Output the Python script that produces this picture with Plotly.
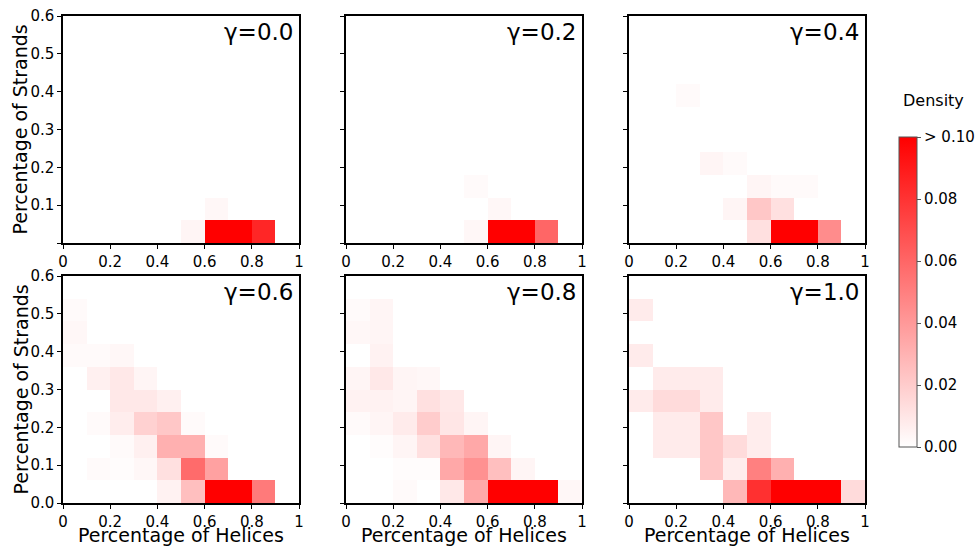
import plotly.graph_objects as go

# bin edges
x_edges = [round(0.1 * i, 2) for i in range(11)]
y_edges = [round(0.06 * i, 2) for i in range(11)]

gammas = ["γ=0.0", "γ=0.2", "γ=0.4", "γ=0.6", "γ=0.8", "γ=1.0"]

Z = [0.0] * 10

# rows: y bins from bottom (0-0.06) to top; columns: x bins 0-0.1 ... 0.9-1.0
g00 = [
    [0, 0, 0, 0, 0, 0.004, 0.42, 0.40, 0.085, 0],
    [0, 0, 0, 0, 0, 0, 0.003, 0, 0, 0],
    Z, Z, Z, Z, Z, Z, Z, Z,
]
g02 = [
    [0, 0, 0, 0, 0, 0.003, 0.40, 0.38, 0.06, 0],
    [0, 0, 0, 0, 0, 0, 0.003, 0, 0, 0],
    [0, 0, 0, 0, 0, 0.002, 0, 0, 0, 0],
    Z, Z, Z, Z, Z, Z, Z,
]
g04 = [
    [0, 0, 0, 0, 0, 0.012, 0.32, 0.30, 0.045, 0],
    [0, 0, 0, 0, 0.004, 0.022, 0.012, 0, 0, 0],
    [0, 0, 0, 0, 0, 0.004, 0.002, 0.002, 0, 0],
    [0, 0, 0, 0.004, 0.002, 0, 0, 0, 0, 0],
    Z, Z,
    [0, 0, 0.002, 0, 0, 0, 0, 0, 0, 0],
    Z, Z, Z,
]
g06 = [
    [0, 0, 0, 0, 0.005, 0.025, 0.16, 0.15, 0.052, 0],
    [0, 0.002, 0.001, 0.003, 0.012, 0.058, 0.037, 0, 0, 0],
    [0, 0, 0.002, 0.006, 0.031, 0.031, 0.002, 0, 0, 0],
    [0, 0.002, 0.007, 0.018, 0.022, 0.002, 0, 0, 0, 0],
    [0, 0, 0.009, 0.009, 0.006, 0, 0, 0, 0, 0],
    [0, 0.006, 0.009, 0.004, 0, 0, 0, 0, 0, 0],
    [0.002, 0.002, 0.003, 0, 0, 0, 0, 0, 0, 0],
    [0.003, 0, 0, 0, 0, 0, 0, 0, 0, 0],
    [0.002, 0, 0, 0, 0, 0, 0, 0, 0, 0],
    Z,
]
g08 = [
    [0, 0, 0.002, 0, 0.009, 0.034, 0.20, 0.19, 0.11, 0.003],
    [0, 0, 0.001, 0.001, 0.034, 0.043, 0.025, 0.004, 0, 0],
    [0, 0.001, 0.004, 0.012, 0.028, 0.034, 0.004, 0, 0, 0],
    [0.002, 0.004, 0.008, 0.02, 0.01, 0.004, 0, 0, 0, 0],
    [0.005, 0.005, 0.004, 0.012, 0.009, 0, 0, 0, 0, 0],
    [0.004, 0.009, 0.004, 0.003, 0, 0, 0, 0, 0, 0],
    [0, 0.005, 0, 0, 0, 0, 0, 0, 0, 0],
    [0.003, 0.004, 0, 0, 0, 0, 0, 0, 0, 0],
    [0.002, 0.004, 0, 0, 0, 0, 0, 0, 0, 0],
    Z,
]
g10 = [
    [0, 0, 0, 0, 0.028, 0.081, 0.22, 0.20, 0.15, 0.014],
    [0, 0, 0, 0.022, 0.007, 0.05, 0.031, 0, 0, 0],
    [0, 0.008, 0.008, 0.022, 0.014, 0.007, 0, 0, 0, 0],
    [0, 0.008, 0.008, 0.022, 0, 0.007, 0, 0, 0, 0],
    [0.008, 0.014, 0.014, 0.008, 0, 0, 0, 0, 0, 0],
    [0, 0.008, 0.008, 0.008, 0, 0, 0, 0, 0, 0],
    [0.008, 0, 0, 0, 0, 0, 0, 0, 0, 0],
    Z,
    [0.008, 0, 0, 0, 0, 0, 0, 0, 0, 0],
    Z,
]
grids = [g00, g02, g04, g06, g08, g10]

x_tickvals = [0, 0.2, 0.4, 0.6, 0.8, 1.0]
x_ticktext = ["0", "0.2", "0.4", "0.6", "0.8", "1"]
y_top_tickvals = [0, 0.1, 0.2, 0.3, 0.4, 0.5, 0.6]
y_top_ticktext = ["", "0.1", "0.2", "0.3", "0.4", "0.5", "0.6"]
y_bot_ticktext = ["0.0", "0.1", "0.2", "0.3", "0.4", "0.5", "0.6"]
cbar_tickvals = [0, 0.02, 0.04, 0.06, 0.08, 0.10]
cbar_ticktext = ["0.00", "0.02", "0.04", "0.06", "0.08", "> 0.10"]

W, H = 977, 547
col_px = [(63, 299), (346, 582), (629, 865)]
row_px = [(16, 243), (276, 503)]

FONT = "DejaVu Sans"
fig = go.Figure()
layout = dict(
    template="none",
    width=W, height=H, margin=dict(l=0, r=0, t=0, b=0, autoexpand=False),
    paper_bgcolor="white", plot_bgcolor="white",
    font=dict(family=FONT, color="black", size=15),
    showlegend=False,
    coloraxis=dict(
        colorscale=[[0, "#ffffff"], [1, "#ff0000"]], cmin=0, cmax=0.1,
        colorbar=dict(
            x=899 / W, xanchor="left", y=1 - 447 / H, yanchor="bottom",
            len=310, lenmode="pixels", thickness=18, thicknessmode="pixels",
            outlinecolor="#555555", outlinewidth=1,
            tickvals=cbar_tickvals, ticktext=cbar_ticktext,
            ticks="outside", ticklen=4, tickcolor="#555555",
            tickfont=dict(size=15, family=FONT), xpad=0, ypad=0,
        ),
    ),
)
annotations = []
for i, z in enumerate(grids):
    r, c = divmod(i, 3)
    idx = "" if i == 0 else str(i + 1)
    fig.add_trace(go.Heatmap(
        x=x_edges, y=y_edges, z=z, coloraxis="coloraxis",
        xaxis="x" + idx, yaxis="y" + idx, hoverinfo="skip",
    ))
    x0, x1 = col_px[c]
    y0, y1 = row_px[r]
    axis_common = dict(
        showline=True, linecolor="black", linewidth=1.5, mirror=True,
        ticks="outside", ticklen=4, tickcolor="black", tickwidth=1,
        showgrid=False, zeroline=False, tickfont=dict(size=15),
        automargin=False,
    )
    layout["xaxis" + idx] = dict(
        domain=[x0 / W, x1 / W], range=[0, 1], anchor="y" + idx,
        tickvals=x_tickvals, ticktext=x_ticktext, **axis_common,
    )
    layout["yaxis" + idx] = dict(
        domain=[1 - y1 / H, 1 - y0 / H], range=[0, 0.6], anchor="x" + idx,
        tickvals=y_top_tickvals,
        ticktext=(y_top_ticktext if r == 0 else y_bot_ticktext) if c == 0 else [""] * 7,
        **axis_common,
    )
    annotations.append(dict(
        text=gammas[i], xref="x" + idx + " domain", yref="y" + idx + " domain",
        x=0.985, y=0.93, xanchor="right", yanchor="middle", showarrow=False,
        font=dict(size=23, family=FONT),
    ))
    if c == 0:
        annotations.append(dict(
            text="Percentage of Strands", xref="paper", yref="paper",
            x=20 / W, y=1 - (y0 + y1) / 2 / H, textangle=-90,
            xanchor="center", yanchor="middle", showarrow=False,
            font=dict(size=19, family=FONT),
        ))
    if r == 1:
        annotations.append(dict(
            text="Percentage of Helices", xref="paper", yref="paper",
            x=(x0 + x1) / 2 / W, y=1 - 535 / H,
            xanchor="center", yanchor="middle", showarrow=False,
            font=dict(size=19, family=FONT),
        ))
annotations.append(dict(
    text="Density", xref="paper", yref="paper", x=933 / W, y=1 - 101 / H,
    xanchor="center", yanchor="middle", showarrow=False,
    font=dict(size=16, family=FONT),
))
layout["annotations"] = annotations
fig.update_layout(**layout)
fig.write_html("out.html")
